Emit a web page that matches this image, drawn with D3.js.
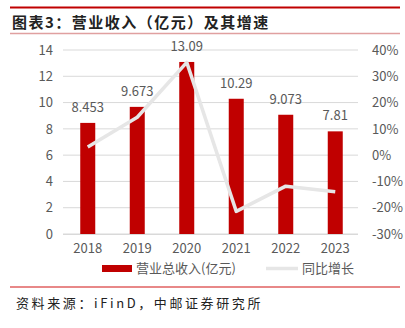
<!DOCTYPE html>
<html><head><meta charset="utf-8">
<script src="https://cdn.jsdelivr.net/npm/d3@7/dist/d3.min.js"></script>
<style>body{margin:0;background:#fff}svg{display:block}</style>
</head><body><svg id="c" width="405" height="328"></svg>
<script>
const years = ["2018","2019","2020","2021","2022","2023"];
const revenue = [8.453, 9.673, 13.09, 10.29, 9.073, 7.81];
const revenueLabels = ["8.453","9.673","13.09","10.29","9.073","7.81"];
const growth = [3.1, 14.4, 35.3, -21.4, -11.8, -13.9];
const leftTicks = [0,2,4,6,8,10,12,14];
const rightTicks = [-30,-20,-10,0,10,20,30,40];
const title = "图表3：营业收入（亿元）及其增速";
const source = "资料来源：iFinD，中邮证券研究所";
const legendNames = ["营业总收入(亿元)","同比增长"];

const svg = d3.select("#c");
const font = "'Noto Sans CJK SC','Noto Sans',sans-serif";
const gray = "#595959";

svg.append("line").attr("x1",10).attr("x2",400).attr("y1",7.5).attr("y2",7.5).attr("stroke","#c00000").attr("stroke-width",2);
svg.append("text").attr("x",12).attr("y",28).text(title).attr("font-family",font).attr("font-size",15).attr("font-weight","bold").attr("letter-spacing",1.5).attr("fill","#222");
svg.append("line").attr("x1",10).attr("x2",400).attr("y1",33.5).attr("y2",33.5).attr("stroke","#e0a0a0").attr("stroke-width",1.5);

const x = d3.scaleBand().domain(years).range([63,360]).paddingInner(0).paddingOuter(0);
const yL = d3.scaleLinear().domain([0,14]).range([234,50]);
const yR = d3.scaleLinear().domain([-30,40]).range([234,50]);

svg.append("g").selectAll("line").data(leftTicks).join("line")
  .attr("x1",63).attr("x2",358).attr("y1",d=>yL(d)).attr("y2",d=>yL(d))
  .attr("stroke","#d9d9d9").attr("stroke-width",1);

const gL = svg.append("g").attr("transform","translate(63,0)")
  .call(d3.axisLeft(yL).tickValues(leftTicks).tickSize(0).tickPadding(10));
gL.select(".domain").remove();
gL.selectAll("text").attr("font-family",font).attr("font-size",13).attr("fill",gray);

const gR = svg.append("g").attr("transform","translate(360,0)")
  .call(d3.axisRight(yR).tickValues(rightTicks).tickSize(0).tickPadding(12).tickFormat(d=>d+"%"));
gR.select(".domain").remove();
gR.selectAll("text").attr("font-family",font).attr("font-size",13).attr("fill",gray);

const bw = 15;
svg.append("g").selectAll("rect").data(revenue).join("rect")
  .attr("x",(d,i)=>x(years[i])+x.bandwidth()/2-bw/2)
  .attr("width",bw)
  .attr("y",d=>yL(d)).attr("height",d=>yL(0)-yL(d))
  .attr("fill","#c00000");

svg.append("g").selectAll("text").data(revenue).join("text")
  .attr("x",(d,i)=>x(years[i])+x.bandwidth()/2)
  .attr("y",d=>yL(d)-11)
  .attr("text-anchor","middle")
  .attr("font-family",font).attr("font-size",13).attr("fill",gray)
  .text((d,i)=>revenueLabels[i]);

const line = d3.line().x((d,i)=>x(years[i])+x.bandwidth()/2).y(d=>yR(d));
svg.append("path").datum(growth).attr("d",line).attr("fill","none")
  .attr("stroke","#e6e6e6").attr("stroke-width",3.5).attr("stroke-linejoin","round");

svg.append("line").attr("x1",63).attr("x2",358).attr("y1",234.5).attr("y2",234.5).attr("stroke","#d9d9d9");

const gX = svg.append("g").attr("transform","translate(0,234)")
  .call(d3.axisBottom(x).tickSize(0).tickPadding(10));
gX.select(".domain").remove();
gX.selectAll("text").attr("font-family",font).attr("font-size",13).attr("fill",gray);

svg.append("rect").attr("x",102).attr("y",265).attr("width",30).attr("height",7).attr("fill","#c00000");
svg.append("text").attr("x",136).attr("y",273).text(legendNames[0]).attr("font-family",font).attr("font-size",13).attr("fill",gray);
svg.append("line").attr("x1",266).attr("x2",298).attr("y1",268.5).attr("y2",268.5).attr("stroke","#e6e6e6").attr("stroke-width",3.5);
svg.append("text").attr("x",302).attr("y",273).text(legendNames[1]).attr("font-family",font).attr("font-size",13).attr("fill",gray);

svg.append("line").attr("x1",10).attr("x2",400).attr("y1",287).attr("y2",287).attr("stroke","#e06060").attr("stroke-width",1.5);
svg.append("text").attr("x",16).attr("y",308).text(source).attr("font-family",font).attr("font-size",13).attr("letter-spacing",2.6).attr("fill","#222");
</script></body></html>
